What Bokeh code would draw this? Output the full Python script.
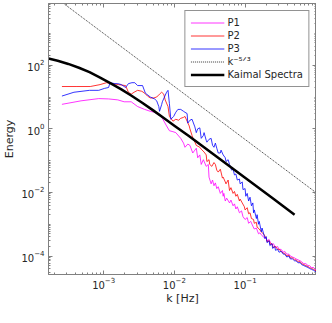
import numpy as np
from bokeh.plotting import figure
from bokeh.models import (Range1d, FixedTicker, LogAxis, Legend, LegendItem,
                          CustomJSTickFormatter)
from bokeh.embed import file_html
from bokeh.resources import INLINE

# ---- data (log10 of wavenumber k [Hz] and log10 of energy) ----
log_k_p1 = [-3.59,-3.32,-3.07,-2.93,-2.80,-2.71,-2.61,-2.52,-2.42,-2.34,-2.28,-2.21,-2.17,-2.11,-2.07,-2.02,
            -1.98,-1.91,-1.87,-1.85,-1.81,-1.78,-1.74,-1.71,-1.69,-1.67,-1.64,-1.62,-1.59,-1.55,-1.52,-1.51,
            -1.48,-1.46,-1.44,-1.42,-1.40,-1.38,-1.35,-1.32,-1.31,-1.30,-1.28,-1.26,-1.22,-1.20,-1.17,-1.15,
            -1.13,-1.11,-1.08,-1.05,-1.03,-1.00,-0.97,-0.95,-0.92,-0.89,-0.87,-0.84,-0.81,-0.79,-0.76,-0.73,
            -0.70,-0.69,-0.66,-0.64,-0.62,-0.60,-0.57,-0.54,-0.52,-0.49,-0.46,-0.44,-0.41,-0.38,-0.36,-0.33,
            -0.30,-0.28,-0.25,-0.22,-0.20,-0.17,-0.14,-0.11,-0.09,-0.06,-0.03,-0.01,0.01]
log_e_p1 = [0.77,0.88,0.95,0.94,0.91,0.85,0.85,0.70,0.61,0.55,0.52,0.42,0.33,0.09,-0.06,-0.09,
            -0.12,-0.30,-0.45,-0.58,-0.48,-0.52,-0.76,-0.67,-0.61,-0.91,-0.82,-1.12,-0.97,-1.18,-1.12,-1.52,
            -1.73,-1.61,-1.79,-1.70,-1.88,-1.82,-2.03,-1.94,-2.12,-2.03,-2.27,-2.18,-2.33,-2.24,-2.42,-2.36,
            -2.52,-2.45,-2.64,-2.58,-2.76,-2.85,-2.79,-2.97,-2.91,-3.06,-3.15,-3.12,-3.30,-3.27,-3.36,-3.42,
            -3.45,-3.52,-3.48,-3.58,-3.64,-3.61,-3.73,-3.70,-3.79,-3.79,-3.88,-3.85,-3.94,-3.94,-4.00,-4.03,
            -4.06,-4.09,-4.12,-4.15,-4.18,-4.24,-4.24,-4.30,-4.30,-4.36,-4.36,-4.42,-4.42]

log_k_p2 = [-3.59,-3.39,-3.19,-3.05,-2.96,-2.88,-2.79,-2.69,-2.65,-2.61,-2.57,-2.52,-2.46,-2.42,-2.38,-2.34,
            -2.29,-2.25,-2.21,-2.18,-2.15,-2.13,-2.09,-2.07,-2.05,-2.02,-1.98,-1.94,-1.91,-1.87,-1.85,-1.82,
            -1.79,-1.78,-1.75,-1.74,-1.71,-1.69,-1.64,-1.62,-1.58,-1.55,-1.54,-1.51,-1.50,-1.47,-1.44,-1.42,
            -1.40,-1.38,-1.35,-1.32,-1.31,-1.28,-1.27,-1.24,-1.22,-1.20,-1.17,-1.15,-1.13,-1.11,-1.08,-1.07,
            -1.04,-1.01,-1.00,-0.97,-0.95,-0.93,-0.91,-0.88,-0.87,-0.84,-0.83,-0.80,-0.77,-0.73,
            -0.70,-0.69,-0.66,-0.64,-0.62,-0.60,-0.57,-0.54,-0.52,-0.49,-0.46,-0.44,-0.41,-0.38,-0.36,-0.33,
            -0.30,-0.28,-0.25,-0.22,-0.20,-0.17,-0.14,-0.11,-0.09,-0.06,-0.03,-0.01,0.01]
log_e_p2 = [1.33,1.33,1.33,1.39,1.45,1.42,1.39,1.36,1.15,1.09,1.15,1.21,1.18,1.12,1.03,0.97,
            0.97,1.00,1.09,1.15,1.09,0.91,0.70,0.39,0.33,0.24,0.30,0.27,0.33,0.36,0.39,0.24,
            0.09,0.00,-0.21,-0.27,-0.42,-0.52,-0.58,-0.64,-0.73,-0.82,-1.03,-0.97,-1.12,-1.18,-1.06,-1.12,
            -1.30,-1.36,-1.27,-1.55,-1.52,-1.67,-1.73,-1.61,-1.94,-1.85,-2.03,-1.97,-2.12,-2.06,-2.27,-2.21,
            -2.33,-2.45,-2.55,-2.48,-2.67,-2.64,-2.82,-2.85,-2.97,-2.94,-3.09,-3.15,-3.24,-3.33,
            -3.45,-3.55,-3.52,-3.64,-3.61,-3.73,-3.70,-3.79,-3.79,-3.85,-3.91,-3.91,-4.00,-3.97,-4.06,-4.06,
            -4.12,-4.12,-4.18,-4.18,-4.24,-4.27,-4.30,-4.33,-4.36,-4.39,-4.42,-4.45,-4.48]

log_k_p3 = [-3.59,-3.42,-3.20,-3.07,-2.99,-2.93,-2.91,-2.84,-2.80,-2.75,-2.69,-2.65,-2.60,-2.56,-2.52,-2.45,
            -2.41,-2.34,-2.28,-2.25,-2.22,-2.21,-2.18,-2.17,-2.14,-2.11,-2.09,-2.07,-2.05,-2.01,-1.98,-1.95,
            -1.91,-1.87,-1.85,-1.82,-1.81,-1.78,-1.75,-1.71,-1.69,-1.67,-1.64,-1.62,-1.59,-1.58,-1.55,-1.54,
            -1.51,-1.48,-1.46,-1.44,-1.42,-1.40,-1.38,-1.35,-1.34,-1.31,-1.28,-1.27,-1.24,-1.22,-1.19,-1.17,
            -1.15,-1.13,-1.11,-1.08,-1.07,-1.04,-1.03,-1.00,-0.99,-0.97,-0.95,-0.93,-0.91,-0.89,-0.88,-0.87,
            -0.84,-0.83,-0.81,-0.80,-0.77,-0.76,-0.73,
            -0.72,-0.70,-0.69,-0.66,-0.65,-0.62,-0.61,-0.58,-0.57,-0.54,-0.52,-0.49,-0.46,-0.44,-0.41,-0.38,
            -0.36,-0.33,-0.30,-0.28,-0.25,-0.22,-0.20,-0.17,-0.14,-0.11,-0.09,-0.06,-0.03,-0.01,0.01]
log_e_p3 = [1.03,1.15,1.21,1.21,1.27,1.30,1.45,1.42,1.42,1.39,1.30,1.42,1.45,1.45,1.36,1.36,
            1.12,1.00,0.94,0.88,0.70,0.55,0.76,0.85,1.00,1.15,1.21,0.79,0.30,0.39,0.52,0.61,
            0.61,0.55,0.52,0.48,0.18,0.27,0.30,0.06,-0.12,0.00,0.03,-0.30,-0.21,-0.12,-0.36,-0.42,
            -0.33,-0.30,-0.52,-0.58,-0.45,-0.61,-0.76,-0.76,-0.67,-0.82,-0.91,-1.03,-0.97,-1.12,-1.30,-1.27,
            -1.45,-1.42,-1.61,-1.58,-1.73,-1.67,-1.91,-1.88,-2.12,-2.03,-2.27,-2.15,-2.42,-2.33,-2.64,-2.55,
            -2.82,-2.70,-3.00,-2.91,-3.24,-3.12,-3.36,
            -3.45,-3.39,-3.58,-3.52,-3.67,-3.61,-3.76,-3.70,-3.82,-3.79,-3.88,-3.85,-3.94,-3.94,-4.03,-4.00,
            -4.09,-4.09,-4.15,-4.15,-4.21,-4.21,-4.27,-4.30,-4.33,-4.36,-4.39,-4.42,-4.45,-4.48,-4.52]

log_k_kaimal = [-3.78,-3.65,-3.50,-3.35,-3.20,-3.05,-2.90,-2.75,-2.60,-2.45,-2.30,-2.15,-2.00,
                -1.80,-1.60,-1.40,-1.20,-1.00,-0.80,-0.60,-0.45,-0.30]
log_e_kaimal = [2.21,2.14,2.04,1.92,1.78,1.61,1.43,1.24,1.03,0.81,0.58,0.34,0.10,
                -0.22,-0.55,-0.88,-1.21,-1.54,-1.87,-2.20,-2.45,-2.70]

log_k_ref = [-3.59, 0.00]     # k^(-5/3) reference line end points
log_e_ref = [3.98, -2.00]

series_labels = ["P1", "P2", "P3", "k\u207b\u2075\u141f\u00b3", "Kaimal Spectra"]
series_colors = ["#ff00ff", "#ff0000", "#0000ff", "#000000", "#000000"]

x_major = [1e-3, 1e-2, 1e-1]
y_major = [1e-4, 1e-2, 1e0, 1e2]

def pw(a):
    return 10.0 ** np.asarray(a)

FONT = "DejaVu Sans"
AX = "#808080"
TXT = "#262626"

p = figure(width=316, height=307, x_axis_type="log", y_axis_type="log",
           x_range=Range1d(10 ** -3.78, 10 ** 0.01), y_range=Range1d(10 ** -4.58, 10 ** 3.94),
           output_backend="svg", toolbar_location=None,
           min_border_left=38, min_border_right=0, min_border_top=3, min_border_bottom=26)
p.background_fill_color = "white"
p.border_fill_color = "white"
p.outline_line_color = AX
p.grid.visible = False

x_minor = [m * 10.0 ** d for d in range(-5, 1) for m in range(2, 10)]
y_minor = [m * 10.0 ** d for d in range(-6, 5) for m in range(1, 10) if not (m == 1 and d % 2 == 0)]
xt = FixedTicker(ticks=x_major, minor_ticks=x_minor)
yt = FixedTicker(ticks=y_major, minor_ticks=y_minor)

def style_axis(ax, show_labels=True):
    ax.axis_line_color = AX
    ax.major_tick_line_color = AX
    ax.minor_tick_line_color = AX
    ax.major_tick_in = 4
    ax.major_tick_out = 0
    ax.minor_tick_in = 2
    ax.minor_tick_out = 0
    ax.major_label_text_font = FONT
    ax.major_label_text_color = TXT
    ax.axis_label_text_font = FONT
    ax.axis_label_text_font_style = "normal"
    ax.axis_label_text_color = TXT
    if show_labels:
        ax.major_label_text_font_size = "10px"
        ax.axis_label_text_font_size = "11px"
    else:
        ax.major_label_text_font_size = "0px"
        ax.major_label_standoff = 0
        ax.formatter = CustomJSTickFormatter(code="return ''")

p.xaxis.ticker = xt
p.yaxis.ticker = yt
p.xaxis.axis_label = "k [Hz]"
p.yaxis.axis_label = "Energy"
style_axis(p.xaxis[0])
style_axis(p.yaxis[0])
p.xaxis.major_label_standoff = 2
p.yaxis.major_label_standoff = 4
p.xaxis.axis_label_standoff = 0
p.yaxis.axis_label_standoff = 2

top_ax = LogAxis(ticker=FixedTicker(ticks=x_major, minor_ticks=x_minor))
right_ax = LogAxis(ticker=FixedTicker(ticks=y_major, minor_ticks=y_minor))
style_axis(top_ax, False)
style_axis(right_ax, False)
p.add_layout(top_ax, "above")
p.add_layout(right_ax, "right")

r1 = p.line(pw(log_k_p1), pw(log_e_p1), line_color=series_colors[0], line_width=0.8)
r2 = p.line(pw(log_k_p2), pw(log_e_p2), line_color=series_colors[1], line_width=0.8)
r3 = p.line(pw(log_k_p3), pw(log_e_p3), line_color=series_colors[2], line_width=0.8)
r4 = p.line(pw(log_k_ref), pw(log_e_ref), line_color=series_colors[3], line_width=0.8, line_dash="1 1")
r5 = p.line(pw(log_k_kaimal), pw(log_e_kaimal), line_color=series_colors[4], line_width=2.5)

legend = Legend(items=[LegendItem(label=lab, renderers=[r]) for lab, r in
                       zip(series_labels, [r1, r2, r3, r4, r5])])
legend.location = "top_right"
legend.margin = 7
legend.padding = 5
legend.spacing = 0
legend.glyph_width = 34
legend.glyph_height = 13
legend.label_height = 13
legend.label_standoff = 3
legend.label_text_font = FONT
legend.label_text_font_size = "10px"
legend.label_text_color = TXT
legend.border_line_color = TXT
legend.border_line_width = 0.8
legend.background_fill_alpha = 1
p.add_layout(legend)

open("out.html", "w").write(file_html(p, INLINE))
